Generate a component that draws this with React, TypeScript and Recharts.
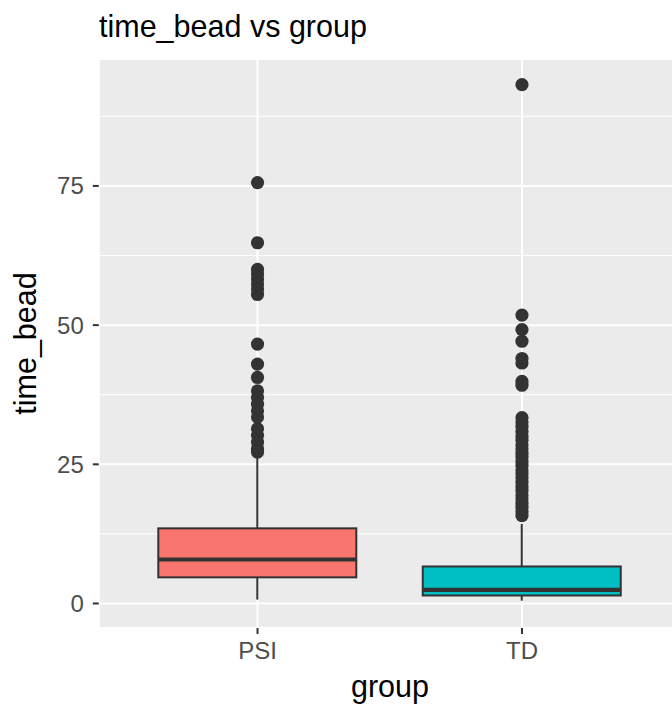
import { Bar, CartesianGrid, ComposedChart, Scatter, XAxis, YAxis } from 'recharts';

// categories
const groups = ['PSI', 'TD'];
const fills = ['#F8766D', '#00BFC4'];

// box stats per group (same order as groups)
const lowerWhisker = [0.7, 0.5];
const q1 = [4.7, 1.44];
const median = [7.9, 2.46];
const q3 = [13.5, 6.65];
const upperWhisker = [26.3, 14.3];

// outliers
const psiOutliers = [
  75.6, 64.8, 60, 59.2, 58.3, 57.4, 56.5, 55.5, 46.6, 43, 40.6, 38.2, 37, 35.8, 34.6, 33.5, 31.4,
  30.2, 29, 27.8, 27.2,
];
const tdOutliers = [
  93.2, 51.8, 49.2, 47.1, 44, 43.2, 39.9, 39.2, 33.4, 32.6, 31.8, 30.9, 30, 29.3, 28.5, 27.8, 27,
  26.3, 25.5, 24.8, 24, 23.3, 22.6, 21.8, 21, 20.3, 19.5, 18.8, 18, 17.3, 16.5, 15.8,
];

const yTicks = [0, 25, 50, 75];
const yMinor = [12.5, 37.5, 62.5, 87.5];

const FONT = '"Liberation Sans", Arial, sans-serif';

const boxData = groups.map((g, i) => ({
  group: g,
  box: [q1[i], q3[i]],
  lo: lowerWhisker[i],
  q1: q1[i],
  med: median[i],
  q3: q3[i],
  hi: upperWhisker[i],
  fill: fills[i],
}));

const outlierData = [
  ...psiOutliers.map((v) => ({ group: 'PSI', value: v })),
  ...tdOutliers.map((v) => ({ group: 'TD', value: v })),
];

function BoxShape(props: any) {
  const { x, y, width, height, payload } = props;
  const top = Math.min(y, y + height);
  const h = Math.abs(height);
  const perUnit = h / (payload.q3 - payload.q1);
  const toY = (v: number) => top + (payload.q3 - v) * perUnit;
  const cx = x + width / 2;
  return (
    <g>
      <line x1={cx} x2={cx} y1={toY(payload.hi)} y2={top} stroke="#333333" strokeWidth={2} />
      <line x1={cx} x2={cx} y1={top + h} y2={toY(payload.lo)} stroke="#333333" strokeWidth={2} />
      <rect x={x} y={top} width={width} height={h} fill={payload.fill} stroke="#333333" strokeWidth={2} />
      <line x1={x} x2={x + width} y1={toY(payload.med)} y2={toY(payload.med)} stroke="#333333" strokeWidth={4.2} />
    </g>
  );
}

function Dot(props: any) {
  return <circle cx={props.cx} cy={props.cy} r={6.6} fill="#333333" />;
}

export default function App() {
  return (
    <div style={{ position: 'absolute', left: 0, top: 0, width: 672, height: 708, overflow: 'hidden', background: '#fff' }}>
      <ComposedChart
        width={690}
        height={708}
        data={boxData}
        margin={{ top: 59, right: 9.3, bottom: 0, left: 0 }}
        style={{ fontFamily: FONT }}
      >
        <CartesianGrid fill="#EBEBEB" stroke="#FFFFFF" strokeWidth={2} />
        <CartesianGrid horizontalValues={yMinor} vertical={false} stroke="#FFFFFF" strokeWidth={1} />
        <XAxis
          dataKey="group"
          type="category"
          allowDuplicatedCategory={false}
          height={80}
          padding={{ left: 26.5, right: 26.5 }}
          axisLine={false}
          tickSize={6}
          tickMargin={8}
          tickLine={{ stroke: '#333333', strokeWidth: 2 }}
          tick={{ fill: '#4D4D4D', fontSize: 24, fontFamily: FONT }}
        />
        <YAxis
          type="number"
          domain={[-4.4, 97.8]}
          ticks={yTicks}
          allowDataOverflow
          width={98.8}
          axisLine={false}
          tickSize={6}
          tickMargin={9}
          tickLine={{ stroke: '#333333', strokeWidth: 2 }}
          tick={{ fill: '#4D4D4D', fontSize: 24, fontFamily: FONT }}
        />
        <Bar dataKey="box" barSize={198} shape={BoxShape} isAnimationActive={false} />
        <Scatter data={outlierData} dataKey="value" shape={Dot} isAnimationActive={false} />
      </ComposedChart>
      <svg
        width={672}
        height={708}
        style={{ position: 'absolute', left: 0, top: 0, pointerEvents: 'none', fontFamily: FONT }}
      >
        <text x={99} y={36.5} fontSize={30.5} fill="#000">
          time_bead vs group
        </text>
        <text x={390} y={697} fontSize={30.5} fill="#000" textAnchor="middle">
          group
        </text>
        <text x={36} y={343.5} fontSize={30.5} fill="#000" textAnchor="middle" transform="rotate(-90 36 343.5)">
          time_bead
        </text>
      </svg>
    </div>
  );
}
